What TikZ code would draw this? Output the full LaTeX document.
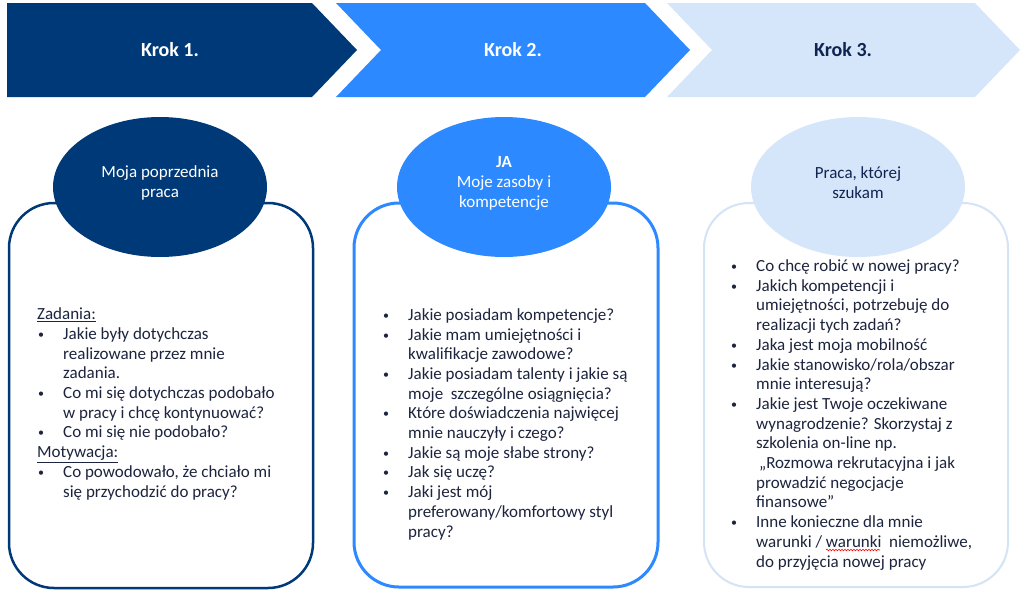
\documentclass[tikz,border=0pt]{standalone}
\usepackage{fontspec}
\setmainfont{Carlito}
\usepackage{tikz}
\usetikzlibrary{shapes.geometric, decorations.pathmorphing}

\definecolor{granat}{RGB}{0,57,120}
\definecolor{niebieski}{RGB}{45,137,255}
\definecolor{jasny}{RGB}{214,230,250}
\definecolor{jasnaramka}{RGB}{212,227,246}
\definecolor{tekst}{RGB}{28,36,62}
\definecolor{ciemny}{RGB}{16,36,82}

\newcommand{\pkt}{\makebox[26pt][l]{\hspace{1pt}\raisebox{1pt}{\fontsize{12}{12}\selectfont\textbullet}}}
\newcommand{\wc}{\hspace*{26pt}}

\begin{document}
\begin{tikzpicture}[x=1pt,y=-1pt,
	krok/.style={font=\fontsize{20}{24}\selectfont\bfseries},
	owal/.style={ellipse, minimum width=214pt, minimum height=140pt, inner sep=0pt},
	dymek/.style={font=\fontsize{17}{20}\selectfont, align=center},
	lista/.style={font=\fontsize{17}{19.7}\selectfont, align=left, anchor=base west, inner sep=0pt, text=tekst},
	ramka/.style={rounded corners=45pt, fill=white}]
	\useasboundingbox (0,0) rectangle (1024,592);
	
	%arrows
	\fill[granat] (7,3)--(312,3)--(357,50)--(312,97)--(7,97)--cycle;
	\fill[niebieski] (336,3)--(645,3)--(690,50)--(645,97)--(336,97)--(381,50)--cycle;
	\fill[jasny] (667,3)--(975,3)--(1020,50)--(975,97)--(667,97)--(712,50)--cycle;
	%
	\node[krok, text=white] (k1) at (170,50) {Krok 1.};
	\node[krok, text=white] (k2) at (513,50) {Krok 2.};
	\node[krok, text=ciemny] (k3) at (843,50) {Krok 3.};
	
	%boxes
	\filldraw[ramka, draw=granat, line width=2.5pt] (9,203) rectangle (313,588);
	\filldraw[ramka, draw=niebieski, line width=3pt] (354,203) rectangle (658,587);
	\filldraw[ramka, draw=jasnaramka, line width=2pt] (704,203) rectangle (1008,587);
	
	%ellipses
	\node[owal, fill=granat] (e1) at (160,187) {};
	\node[owal, fill=niebieski] (e2) at (504,187) {};
	\node[owal, fill=jasny] (e3) at (858,187) {};
	%
	\node[dymek, text=white] (t1) at (160,183) {Moja poprzednia\\praca};
	\node[dymek, text=white] (t2) at (504,183) {\textbf{JA}\\Moje zasoby i\\kompetencje};
	\node[dymek, text=ciemny] (t3) at (858,183) {Praca, której\\szukam};
	
	%lists (anchored at the last line)
	\node[lista] (l1) at (37,497) {\underline{Zadania:}\\
		\pkt Jakie były dotychczas\\
		\wc realizowane przez mnie\\
		\wc zadania.\\
		\pkt Co mi się dotychczas podobało\\
		\wc w pracy i chcę kontynuować?\\
		\pkt Co mi się nie podobało?\\
		\underline{Motywacja:}\\
		\pkt Co powodowało, że chciało mi\\
		\wc się przychodzić do pracy?};
	%
	\node[lista] (l2) at (382,537) {\pkt Jakie posiadam kompetencje?\\
		\pkt Jakie mam umiejętności i\\
		\wc kwalifikacje zawodowe?\\
		\pkt Jakie posiadam talenty i jakie są\\
		\wc moje\ \ szczególne osiągnięcia?\\
		\pkt Które doświadczenia najwięcej\\
		\wc mnie nauczyły i czego?\\
		\pkt Jakie są moje słabe strony?\\
		\pkt Jak się uczę?\\
		\pkt Jaki jest mój\\
		\wc preferowany/komfortowy styl\\
		\wc pracy?};
	%
	\node[lista] (l3) at (730,567) {\pkt Co chcę robić w nowej pracy?\\
		\pkt Jakich kompetencji i\\
		\wc umiejętności, potrzebuję do\\
		\wc realizacji tych zadań?\\
		\pkt Jaka jest moja mobilność\\
		\pkt Jakie stanowisko/rola/obszar\\
		\wc mnie interesują?\\
		\pkt Jakie jest Twoje oczekiwane\\
		\wc wynagrodzenie? Skorzystaj z\\
		\wc szkolenia on-line np.\\
		\wc\hspace{3pt}„Rozmowa rekrutacyjna i jak\\
		\wc prowadzić negocjacje\\
		\wc finansowe”\\
		\pkt Inne konieczne dla mnie\\
		\wc warunki / warunki\ \ niemożliwe,\\
		\wc do przyjęcia nowej pracy};
	
	%spelling mark
	\draw[red, line width=0.6pt, decorate, decoration={snake, amplitude=0.8pt, segment length=3pt}] (826,550)--(880,550);
	
	%\draw[help lines, step=50] (0,0) grid (1024,592);
\end{tikzpicture}
\end{document}
